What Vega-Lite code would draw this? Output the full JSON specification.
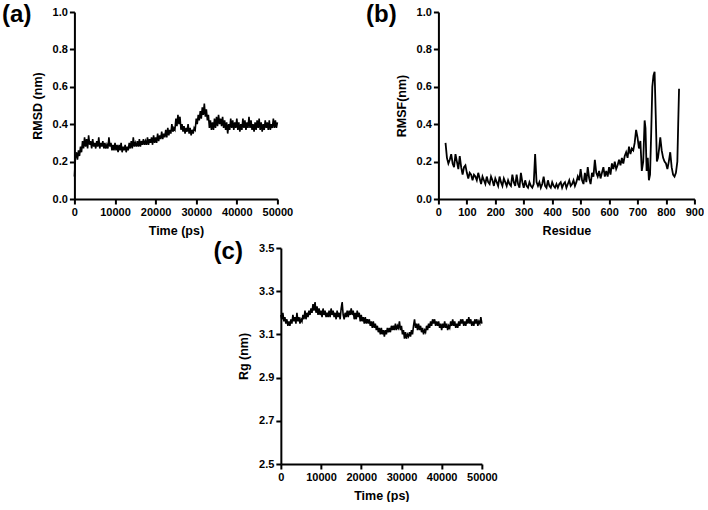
{
"$schema": "https://vega.github.io/schema/vega-lite/v6.json",
"background": "white",
"padding": {"left": 2, "top": 3, "right": 0, "bottom": 0},
"datasets": {
"rmsd": [
{"time":0,"rmsd":0.12},{"time":250,"rmsd":0.22},{"time":500,"rmsd":0.25},{"time":750,"rmsd":0.21},{"time":1000,"rmsd":0.26},{"time":1250,"rmsd":0.23},{"time":1500,"rmsd":0.28},{"time":1750,"rmsd":0.25},{"time":2000,"rmsd":0.31},{"time":2250,"rmsd":0.27},{"time":2500,"rmsd":0.33},{"time":2750,"rmsd":0.28},{"time":3000,"rmsd":0.32},{"time":3250,"rmsd":0.27},{"time":3500,"rmsd":0.34},{"time":3750,"rmsd":0.29},{"time":4000,"rmsd":0.31},{"time":4250,"rmsd":0.27},{"time":4500,"rmsd":0.32},{"time":4750,"rmsd":0.28},
{"time":5000,"rmsd":0.30},{"time":5250,"rmsd":0.27},{"time":5500,"rmsd":0.31},{"time":5750,"rmsd":0.28},{"time":6000,"rmsd":0.33},{"time":6250,"rmsd":0.27},{"time":6500,"rmsd":0.30},{"time":6750,"rmsd":0.28},{"time":7000,"rmsd":0.31},{"time":7250,"rmsd":0.27},{"time":7500,"rmsd":0.30},{"time":7750,"rmsd":0.27},{"time":8000,"rmsd":0.29},{"time":8250,"rmsd":0.27},{"time":8500,"rmsd":0.33},{"time":8750,"rmsd":0.28},{"time":9000,"rmsd":0.30},{"time":9250,"rmsd":0.26},{"time":9500,"rmsd":0.29},{"time":9750,"rmsd":0.26},
{"time":10000,"rmsd":0.30},{"time":10250,"rmsd":0.26},{"time":10500,"rmsd":0.29},{"time":10750,"rmsd":0.25},{"time":11000,"rmsd":0.29},{"time":11250,"rmsd":0.26},{"time":11500,"rmsd":0.30},{"time":11750,"rmsd":0.25},{"time":12000,"rmsd":0.28},{"time":12250,"rmsd":0.26},{"time":12500,"rmsd":0.29},{"time":12750,"rmsd":0.25},{"time":13000,"rmsd":0.28},{"time":13250,"rmsd":0.26},{"time":13500,"rmsd":0.30},{"time":13750,"rmsd":0.27},{"time":14000,"rmsd":0.31},{"time":14250,"rmsd":0.27},{"time":14500,"rmsd":0.33},{"time":14750,"rmsd":0.28},
{"time":15000,"rmsd":0.30},{"time":15250,"rmsd":0.28},{"time":15500,"rmsd":0.31},{"time":15750,"rmsd":0.28},{"time":16000,"rmsd":0.32},{"time":16250,"rmsd":0.28},{"time":16500,"rmsd":0.31},{"time":16750,"rmsd":0.29},{"time":17000,"rmsd":0.32},{"time":17250,"rmsd":0.29},{"time":17500,"rmsd":0.31},{"time":17750,"rmsd":0.29},{"time":18000,"rmsd":0.33},{"time":18250,"rmsd":0.29},{"time":18500,"rmsd":0.32},{"time":18750,"rmsd":0.30},{"time":19000,"rmsd":0.33},{"time":19250,"rmsd":0.29},{"time":19500,"rmsd":0.34},{"time":19750,"rmsd":0.30},
{"time":20000,"rmsd":0.33},{"time":20250,"rmsd":0.30},{"time":20500,"rmsd":0.35},{"time":20750,"rmsd":0.31},{"time":21000,"rmsd":0.34},{"time":21250,"rmsd":0.32},{"time":21500,"rmsd":0.36},{"time":21750,"rmsd":0.32},{"time":22000,"rmsd":0.35},{"time":22250,"rmsd":0.33},{"time":22500,"rmsd":0.37},{"time":22750,"rmsd":0.33},{"time":23000,"rmsd":0.38},{"time":23250,"rmsd":0.34},{"time":23500,"rmsd":0.37},{"time":23750,"rmsd":0.35},{"time":24000,"rmsd":0.40},{"time":24250,"rmsd":0.36},{"time":24500,"rmsd":0.38},{"time":24750,"rmsd":0.37},
{"time":25000,"rmsd":0.43},{"time":25250,"rmsd":0.39},{"time":25500,"rmsd":0.45},{"time":25750,"rmsd":0.40},{"time":26000,"rmsd":0.44},{"time":26250,"rmsd":0.37},{"time":26500,"rmsd":0.40},{"time":26750,"rmsd":0.36},{"time":27000,"rmsd":0.39},{"time":27250,"rmsd":0.35},{"time":27500,"rmsd":0.38},{"time":27750,"rmsd":0.36},{"time":28000,"rmsd":0.40},{"time":28250,"rmsd":0.35},{"time":28500,"rmsd":0.38},{"time":28750,"rmsd":0.34},{"time":29000,"rmsd":0.37},{"time":29250,"rmsd":0.35},{"time":29500,"rmsd":0.38},{"time":29750,"rmsd":0.37},
{"time":30000,"rmsd":0.43},{"time":30250,"rmsd":0.40},{"time":30500,"rmsd":0.45},{"time":30750,"rmsd":0.42},{"time":31000,"rmsd":0.47},{"time":31250,"rmsd":0.43},{"time":31500,"rmsd":0.49},{"time":31750,"rmsd":0.45},{"time":32000,"rmsd":0.51},{"time":32250,"rmsd":0.44},{"time":32500,"rmsd":0.48},{"time":32750,"rmsd":0.42},{"time":33000,"rmsd":0.45},{"time":33250,"rmsd":0.38},{"time":33500,"rmsd":0.42},{"time":33750,"rmsd":0.37},{"time":34000,"rmsd":0.41},{"time":34250,"rmsd":0.37},{"time":34500,"rmsd":0.43},{"time":34750,"rmsd":0.38},
{"time":35000,"rmsd":0.44},{"time":35250,"rmsd":0.39},{"time":35500,"rmsd":0.45},{"time":35750,"rmsd":0.40},{"time":36000,"rmsd":0.43},{"time":36250,"rmsd":0.39},{"time":36500,"rmsd":0.44},{"time":36750,"rmsd":0.38},{"time":37000,"rmsd":0.42},{"time":37250,"rmsd":0.37},{"time":37500,"rmsd":0.41},{"time":37750,"rmsd":0.35},{"time":38000,"rmsd":0.40},{"time":38250,"rmsd":0.37},{"time":38500,"rmsd":0.43},{"time":38750,"rmsd":0.38},{"time":39000,"rmsd":0.42},{"time":39250,"rmsd":0.37},{"time":39500,"rmsd":0.41},{"time":39750,"rmsd":0.38},
{"time":40000,"rmsd":0.43},{"time":40250,"rmsd":0.37},{"time":40500,"rmsd":0.41},{"time":40750,"rmsd":0.36},{"time":41000,"rmsd":0.40},{"time":41250,"rmsd":0.37},{"time":41500,"rmsd":0.43},{"time":41750,"rmsd":0.38},{"time":42000,"rmsd":0.42},{"time":42250,"rmsd":0.37},{"time":42500,"rmsd":0.41},{"time":42750,"rmsd":0.38},{"time":43000,"rmsd":0.44},{"time":43250,"rmsd":0.38},{"time":43500,"rmsd":0.42},{"time":43750,"rmsd":0.37},{"time":44000,"rmsd":0.40},{"time":44250,"rmsd":0.36},{"time":44500,"rmsd":0.41},{"time":44750,"rmsd":0.37},
{"time":45000,"rmsd":0.42},{"time":45250,"rmsd":0.38},{"time":45500,"rmsd":0.43},{"time":45750,"rmsd":0.37},{"time":46000,"rmsd":0.41},{"time":46250,"rmsd":0.36},{"time":46500,"rmsd":0.40},{"time":46750,"rmsd":0.37},{"time":47000,"rmsd":0.42},{"time":47250,"rmsd":0.38},{"time":47500,"rmsd":0.41},{"time":47750,"rmsd":0.37},{"time":48000,"rmsd":0.42},{"time":48250,"rmsd":0.37},{"time":48500,"rmsd":0.40},{"time":48750,"rmsd":0.38},{"time":49000,"rmsd":0.43},{"time":49250,"rmsd":0.38},{"time":49500,"rmsd":0.42},{"time":49750,"rmsd":0.38},{"time":50000,"rmsd":0.41}
],
"rmsf": [
{"residue":25,"rmsf":0.30},{"residue":30,"rmsf":0.22},{"residue":35,"rmsf":0.19},{"residue":40,"rmsf":0.21},{"residue":45,"rmsf":0.24},{"residue":50,"rmsf":0.19},{"residue":55,"rmsf":0.17},{"residue":60,"rmsf":0.24},{"residue":65,"rmsf":0.20},{"residue":70,"rmsf":0.16},{"residue":75,"rmsf":0.23},{"residue":80,"rmsf":0.17},{"residue":85,"rmsf":0.13},{"residue":90,"rmsf":0.17},{"residue":95,"rmsf":0.18},{"residue":100,"rmsf":0.14},{"residue":105,"rmsf":0.11},{"residue":110,"rmsf":0.14},{"residue":115,"rmsf":0.13},{"residue":120,"rmsf":0.10},
{"residue":125,"rmsf":0.13},{"residue":130,"rmsf":0.12},{"residue":135,"rmsf":0.10},{"residue":140,"rmsf":0.14},{"residue":145,"rmsf":0.11},{"residue":150,"rmsf":0.08},{"residue":155,"rmsf":0.12},{"residue":160,"rmsf":0.10},{"residue":165,"rmsf":0.08},{"residue":170,"rmsf":0.12},{"residue":175,"rmsf":0.09},{"residue":180,"rmsf":0.08},{"residue":185,"rmsf":0.12},{"residue":190,"rmsf":0.10},{"residue":195,"rmsf":0.07},{"residue":200,"rmsf":0.11},{"residue":205,"rmsf":0.09},{"residue":210,"rmsf":0.07},{"residue":215,"rmsf":0.12},{"residue":220,"rmsf":0.09},
{"residue":225,"rmsf":0.07},{"residue":230,"rmsf":0.11},{"residue":235,"rmsf":0.09},{"residue":240,"rmsf":0.07},{"residue":245,"rmsf":0.10},{"residue":250,"rmsf":0.08},{"residue":255,"rmsf":0.07},{"residue":260,"rmsf":0.13},{"residue":265,"rmsf":0.09},{"residue":270,"rmsf":0.07},{"residue":275,"rmsf":0.13},{"residue":280,"rmsf":0.08},{"residue":285,"rmsf":0.06},{"residue":290,"rmsf":0.14},{"residue":295,"rmsf":0.09},{"residue":300,"rmsf":0.06},{"residue":305,"rmsf":0.10},{"residue":310,"rmsf":0.07},{"residue":315,"rmsf":0.06},{"residue":320,"rmsf":0.09},
{"residue":325,"rmsf":0.07},{"residue":330,"rmsf":0.06},{"residue":335,"rmsf":0.08},{"residue":340,"rmsf":0.24},{"residue":345,"rmsf":0.09},{"residue":350,"rmsf":0.07},{"residue":355,"rmsf":0.09},{"residue":360,"rmsf":0.06},{"residue":365,"rmsf":0.08},{"residue":370,"rmsf":0.12},{"residue":375,"rmsf":0.07},{"residue":380,"rmsf":0.06},{"residue":385,"rmsf":0.10},{"residue":390,"rmsf":0.07},{"residue":395,"rmsf":0.06},{"residue":400,"rmsf":0.09},{"residue":405,"rmsf":0.07},{"residue":410,"rmsf":0.06},{"residue":415,"rmsf":0.08},{"residue":420,"rmsf":0.06},
{"residue":425,"rmsf":0.08},{"residue":430,"rmsf":0.09},{"residue":435,"rmsf":0.06},{"residue":440,"rmsf":0.08},{"residue":445,"rmsf":0.09},{"residue":450,"rmsf":0.06},{"residue":455,"rmsf":0.08},{"residue":460,"rmsf":0.10},{"residue":465,"rmsf":0.07},{"residue":470,"rmsf":0.08},{"residue":475,"rmsf":0.10},{"residue":480,"rmsf":0.07},{"residue":485,"rmsf":0.09},{"residue":490,"rmsf":0.12},{"residue":495,"rmsf":0.10},{"residue":500,"rmsf":0.16},{"residue":505,"rmsf":0.10},{"residue":510,"rmsf":0.08},{"residue":515,"rmsf":0.14},{"residue":520,"rmsf":0.09},
{"residue":525,"rmsf":0.17},{"residue":530,"rmsf":0.11},{"residue":535,"rmsf":0.08},{"residue":540,"rmsf":0.14},{"residue":545,"rmsf":0.12},{"residue":550,"rmsf":0.21},{"residue":555,"rmsf":0.14},{"residue":560,"rmsf":0.12},{"residue":565,"rmsf":0.15},{"residue":570,"rmsf":0.11},{"residue":575,"rmsf":0.14},{"residue":580,"rmsf":0.17},{"residue":585,"rmsf":0.12},{"residue":590,"rmsf":0.15},{"residue":595,"rmsf":0.12},{"residue":600,"rmsf":0.17},{"residue":605,"rmsf":0.13},{"residue":610,"rmsf":0.19},{"residue":615,"rmsf":0.16},{"residue":620,"rmsf":0.20},
{"residue":625,"rmsf":0.16},{"residue":630,"rmsf":0.18},{"residue":635,"rmsf":0.21},{"residue":640,"rmsf":0.18},{"residue":645,"rmsf":0.22},{"residue":650,"rmsf":0.19},{"residue":655,"rmsf":0.23},{"residue":660,"rmsf":0.25},{"residue":665,"rmsf":0.22},{"residue":670,"rmsf":0.28},{"residue":675,"rmsf":0.24},{"residue":680,"rmsf":0.27},{"residue":685,"rmsf":0.26},{"residue":690,"rmsf":0.30},{"residue":695,"rmsf":0.37},{"residue":700,"rmsf":0.33},{"residue":705,"rmsf":0.27},{"residue":710,"rmsf":0.31},{"residue":715,"rmsf":0.15},{"residue":720,"rmsf":0.20},
{"residue":725,"rmsf":0.42},{"residue":728,"rmsf":0.38},{"residue":732,"rmsf":0.15},{"residue":736,"rmsf":0.22},{"residue":740,"rmsf":0.10},{"residue":744,"rmsf":0.13},{"residue":748,"rmsf":0.35},{"residue":752,"rmsf":0.60},{"residue":756,"rmsf":0.66},{"residue":760,"rmsf":0.68},{"residue":764,"rmsf":0.45},{"residue":768,"rmsf":0.20},{"residue":772,"rmsf":0.22},{"residue":776,"rmsf":0.27},{"residue":780,"rmsf":0.33},{"residue":785,"rmsf":0.26},{"residue":790,"rmsf":0.22},{"residue":795,"rmsf":0.20},{"residue":800,"rmsf":0.19},{"residue":805,"rmsf":0.16},
{"residue":810,"rmsf":0.20},{"residue":815,"rmsf":0.25},{"residue":820,"rmsf":0.17},{"residue":825,"rmsf":0.13},{"residue":830,"rmsf":0.12},{"residue":835,"rmsf":0.14},{"residue":840,"rmsf":0.20},{"residue":843,"rmsf":0.40},{"residue":846,"rmsf":0.59}
],
"rg": [
{"time":0,"rg":3.19},{"time":250,"rg":3.17},{"time":500,"rg":3.20},{"time":750,"rg":3.16},{"time":1000,"rg":3.18},{"time":1250,"rg":3.15},{"time":1500,"rg":3.17},{"time":1750,"rg":3.14},{"time":2000,"rg":3.16},{"time":2250,"rg":3.14},{"time":2500,"rg":3.17},{"time":2750,"rg":3.15},{"time":3000,"rg":3.19},{"time":3250,"rg":3.16},{"time":3500,"rg":3.18},{"time":3750,"rg":3.15},{"time":4000,"rg":3.20},{"time":4250,"rg":3.16},{"time":4500,"rg":3.18},{"time":4750,"rg":3.15},
{"time":5000,"rg":3.17},{"time":5250,"rg":3.16},{"time":5500,"rg":3.19},{"time":5750,"rg":3.17},{"time":6000,"rg":3.21},{"time":6250,"rg":3.17},{"time":6500,"rg":3.20},{"time":6750,"rg":3.18},{"time":7000,"rg":3.21},{"time":7250,"rg":3.19},{"time":7500,"rg":3.22},{"time":7750,"rg":3.20},{"time":8000,"rg":3.24},{"time":8250,"rg":3.21},{"time":8500,"rg":3.25},{"time":8750,"rg":3.20},{"time":9000,"rg":3.23},{"time":9250,"rg":3.19},{"time":9500,"rg":3.22},{"time":9750,"rg":3.19},
{"time":10000,"rg":3.21},{"time":10250,"rg":3.18},{"time":10500,"rg":3.22},{"time":10750,"rg":3.19},{"time":11000,"rg":3.21},{"time":11250,"rg":3.18},{"time":11500,"rg":3.20},{"time":11750,"rg":3.18},{"time":12000,"rg":3.21},{"time":12250,"rg":3.18},{"time":12500,"rg":3.22},{"time":12750,"rg":3.19},{"time":13000,"rg":3.21},{"time":13250,"rg":3.18},{"time":13500,"rg":3.20},{"time":13750,"rg":3.17},{"time":14000,"rg":3.21},{"time":14250,"rg":3.18},{"time":14500,"rg":3.20},{"time":14750,"rg":3.17},
{"time":15000,"rg":3.22},{"time":15250,"rg":3.25},{"time":15500,"rg":3.19},{"time":15750,"rg":3.17},{"time":16000,"rg":3.20},{"time":16250,"rg":3.18},{"time":16500,"rg":3.21},{"time":16750,"rg":3.18},{"time":17000,"rg":3.21},{"time":17250,"rg":3.19},{"time":17500,"rg":3.22},{"time":17750,"rg":3.19},{"time":18000,"rg":3.21},{"time":18250,"rg":3.17},{"time":18500,"rg":3.20},{"time":18750,"rg":3.17},{"time":19000,"rg":3.21},{"time":19250,"rg":3.18},{"time":19500,"rg":3.20},{"time":19750,"rg":3.16},
{"time":20000,"rg":3.19},{"time":20250,"rg":3.16},{"time":20500,"rg":3.18},{"time":20750,"rg":3.15},{"time":21000,"rg":3.18},{"time":21250,"rg":3.15},{"time":21500,"rg":3.17},{"time":21750,"rg":3.15},{"time":22000,"rg":3.17},{"time":22250,"rg":3.14},{"time":22500,"rg":3.16},{"time":22750,"rg":3.13},{"time":23000,"rg":3.16},{"time":23250,"rg":3.13},{"time":23500,"rg":3.15},{"time":23750,"rg":3.12},{"time":24000,"rg":3.14},{"time":24250,"rg":3.11},{"time":24500,"rg":3.13},{"time":24750,"rg":3.10},
{"time":25000,"rg":3.13},{"time":25250,"rg":3.10},{"time":25500,"rg":3.12},{"time":25750,"rg":3.09},{"time":26000,"rg":3.12},{"time":26250,"rg":3.10},{"time":26500,"rg":3.13},{"time":26750,"rg":3.11},{"time":27000,"rg":3.13},{"time":27250,"rg":3.11},{"time":27500,"rg":3.14},{"time":27750,"rg":3.12},{"time":28000,"rg":3.14},{"time":28250,"rg":3.12},{"time":28500,"rg":3.15},{"time":28750,"rg":3.12},{"time":29000,"rg":3.14},{"time":29250,"rg":3.13},{"time":29500,"rg":3.16},{"time":29750,"rg":3.12},
{"time":30000,"rg":3.14},{"time":30250,"rg":3.10},{"time":30500,"rg":3.12},{"time":30750,"rg":3.08},{"time":31000,"rg":3.11},{"time":31250,"rg":3.08},{"time":31500,"rg":3.10},{"time":31750,"rg":3.09},{"time":32000,"rg":3.11},{"time":32250,"rg":3.09},{"time":32500,"rg":3.12},{"time":32750,"rg":3.10},{"time":33000,"rg":3.14},{"time":33250,"rg":3.17},{"time":33500,"rg":3.13},{"time":33750,"rg":3.15},{"time":34000,"rg":3.12},{"time":34250,"rg":3.15},{"time":34500,"rg":3.12},{"time":34750,"rg":3.14},
{"time":35000,"rg":3.11},{"time":35250,"rg":3.13},{"time":35500,"rg":3.10},{"time":35750,"rg":3.12},{"time":36000,"rg":3.11},{"time":36250,"rg":3.14},{"time":36500,"rg":3.12},{"time":36750,"rg":3.15},{"time":37000,"rg":3.13},{"time":37250,"rg":3.16},{"time":37500,"rg":3.14},{"time":37750,"rg":3.17},{"time":38000,"rg":3.15},{"time":38250,"rg":3.17},{"time":38500,"rg":3.14},{"time":38750,"rg":3.16},{"time":39000,"rg":3.14},{"time":39250,"rg":3.16},{"time":39500,"rg":3.13},{"time":39750,"rg":3.15},
{"time":40000,"rg":3.12},{"time":40250,"rg":3.15},{"time":40500,"rg":3.13},{"time":40750,"rg":3.16},{"time":41000,"rg":3.13},{"time":41250,"rg":3.15},{"time":41500,"rg":3.12},{"time":41750,"rg":3.14},{"time":42000,"rg":3.13},{"time":42250,"rg":3.16},{"time":42500,"rg":3.14},{"time":42750,"rg":3.17},{"time":43000,"rg":3.14},{"time":43250,"rg":3.16},{"time":43500,"rg":3.13},{"time":43750,"rg":3.15},{"time":44000,"rg":3.13},{"time":44250,"rg":3.16},{"time":44500,"rg":3.14},{"time":44750,"rg":3.17},
{"time":45000,"rg":3.15},{"time":45250,"rg":3.17},{"time":45500,"rg":3.14},{"time":45750,"rg":3.16},{"time":46000,"rg":3.14},{"time":46250,"rg":3.17},{"time":46500,"rg":3.15},{"time":46750,"rg":3.18},{"time":47000,"rg":3.15},{"time":47250,"rg":3.17},{"time":47500,"rg":3.14},{"time":47750,"rg":3.16},{"time":48000,"rg":3.14},{"time":48250,"rg":3.17},{"time":48500,"rg":3.15},{"time":48750,"rg":3.17},{"time":49000,"rg":3.14},{"time":49250,"rg":3.16},{"time":49500,"rg":3.15},{"time":49750,"rg":3.18},{"time":50000,"rg":3.15}
]
},
"vconcat": [
{
"hconcat": [
{
"width": 203, "height": 187,
"title": {"text": "(a)", "dx": -29, "dy": 25},
"data": {"name": "rmsd"},
"mark": {"type": "line", "color": "black", "strokeWidth": 1.6},
"encoding": {
"x": {"field": "time", "type": "quantitative", "scale": {"domain": [0, 50000], "nice": false}, "axis": {"title": "Time (ps)", "values": [0, 10000, 20000, 30000, 40000, 50000], "format": "d"}},
"y": {"field": "rmsd", "type": "quantitative", "scale": {"domain": [0, 1], "nice": false}, "axis": {"title": "RMSD (nm)", "values": [0, 0.2, 0.4, 0.6, 0.8, 1.0], "format": ".1f"}}
}
},
{
"width": 256, "height": 187,
"title": {"text": "(b)", "dx": -29, "dy": 25},
"data": {"name": "rmsf"},
"mark": {"type": "line", "color": "black", "strokeWidth": 1.8},
"encoding": {
"x": {"field": "residue", "type": "quantitative", "scale": {"domain": [0, 900], "nice": false}, "axis": {"title": "Residue", "values": [0, 100, 200, 300, 400, 500, 600, 700, 800, 900], "format": "d"}},
"y": {"field": "rmsf", "type": "quantitative", "scale": {"domain": [0, 1], "nice": false}, "axis": {"title": "RMSF(nm)", "values": [0, 0.2, 0.4, 0.6, 0.8, 1.0], "format": ".1f"}}
}
}
],
"spacing": 161,
"bounds": "flush"
},
{
"width": 201, "height": 216,
"title": {"text": "(c)", "dx": -24, "dy": 26},
"data": {"name": "rg"},
"mark": {"type": "line", "color": "black", "strokeWidth": 1.6},
"encoding": {
"x": {"field": "time", "type": "quantitative", "scale": {"domain": [0, 50000], "nice": false}, "axis": {"title": "Time (ps)", "values": [0, 10000, 20000, 30000, 40000, 50000], "format": "d"}},
"y": {"field": "rg", "type": "quantitative", "scale": {"domain": [2.5, 3.5], "nice": false}, "axis": {"title": "Rg (nm)", "values": [2.5, 2.7, 2.9, 3.1, 3.3, 3.5], "format": ".1f"}}
}
}
],
"spacing": 3,
"center": true,
"bounds": "full",
"config": {
"view": {"stroke": null},
"font": "Liberation Sans",
"axis": {"grid": false, "domainColor": "black", "domainWidth": 2, "tickColor": "black", "tickWidth": 2, "tickSize": 5, "labelFont": "Liberation Sans", "labelFontWeight": "bold", "labelFontSize": 11, "labelColor": "black", "labelFlush": false, "labelOverlap": false, "labelPadding": 2, "titleFont": "Liberation Sans", "titleFontWeight": "bold", "titleFontSize": 12.5, "titleColor": "black", "titlePadding": 4},
"axisX": {"titlePadding": 7},
"axisY": {"titlePadding": 8},
"title": {"font": "Liberation Sans", "fontWeight": "bold", "fontSize": 24, "color": "black", "anchor": "start", "frame": "bounds", "offset": 0}
}
}
